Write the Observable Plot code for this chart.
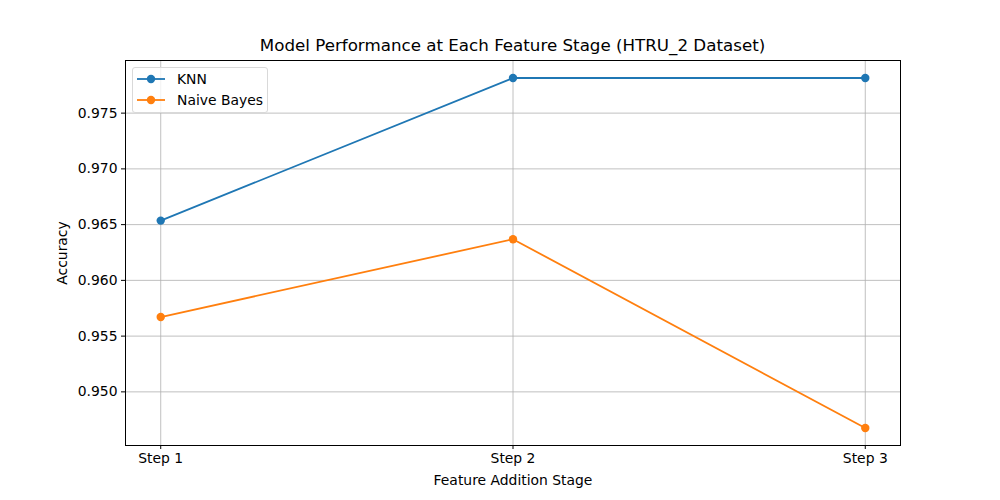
<!DOCTYPE html>
<html>
<head>
<meta charset="utf-8">
<script src="https://cdn.jsdelivr.net/npm/d3@7"></script>
<script src="https://cdn.jsdelivr.net/npm/@observablehq/plot@0.6"></script>
<style>
  body { margin: 0; background: #fff; font-family: "DejaVu Sans", sans-serif; }
  #wrap { position: relative; width: 1000px; height: 500px; }
  #title { position: absolute; top: 35px; left: 0; width: 1025px; text-align: center; font-size: 16.7px; color: #000; }
  #legend { position: absolute; left: 132px; top: 67px; width: 134px; height: 44px; border: 1px solid #d9d9d9; border-radius: 3px; background: rgba(255,255,255,0.8); font-size: 13.9px; }
  .item { position: absolute; left: 4px; display: flex; align-items: center; }
  .item span { margin-left: 12px; }
</style>
</head>
<body>
<div id="wrap">
  <div id="title">Model Performance at Each Feature Stage (HTRU_2 Dataset)</div>
  <div id="chart"></div>
  <div id="legend"></div>
</div>
<script>
const steps = [1, 2, 3];
const stepLabels = ["Step 1", "Step 2", "Step 3"];
const knn = [0.96536, 0.97815, 0.97815];
const naiveBayes = [0.95671, 0.96369, 0.94676];
const seriesNames = ["KNN", "Naive Bayes"];
const seriesColors = ["#1f77b4", "#ff7f0e"];
const yTicks = [0.950, 0.955, 0.960, 0.965, 0.970, 0.975];

const data = [];
steps.forEach((s, i) => {
  data.push({step: s, value: knn[i], series: seriesNames[0]});
  data.push({step: s, value: naiveBayes[i], series: seriesNames[1]});
});

const chart = Plot.plot({
  width: 1000,
  height: 500,
  marginLeft: 125,
  marginRight: 100,
  marginTop: 60,
  marginBottom: 55,
  style: {fontFamily: "DejaVu Sans, sans-serif", fontSize: "13.9px", color: "#000", background: "#fff"},
  x: {domain: [0.9, 3.1]},
  y: {domain: [0.94519, 0.97972]},
  color: {domain: seriesNames, range: seriesColors},
  marks: [
    Plot.gridX(steps, {stroke: "#b0b0b0", strokeOpacity: 1, strokeWidth: 0.8}),
    Plot.gridY(yTicks, {stroke: "#b0b0b0", strokeOpacity: 1, strokeWidth: 0.8}),
    Plot.axisX(steps, {tickFormat: (d, i) => stepLabels[i], tickSize: 4, tickPadding: 4,
      label: "Feature Addition Stage", labelAnchor: "center", labelArrow: "none", labelOffset: 39}),
    Plot.axisY(yTicks, {tickFormat: d3.format(".3f"), tickSize: 4, tickPadding: 4,
      label: "Accuracy", labelAnchor: "center", labelArrow: "none", labelOffset: 68}),
    Plot.line(data, {x: "step", y: "value", stroke: "series", z: "series", strokeWidth: 1.8}),
    Plot.dot(data, {x: "step", y: "value", fill: "series", r: 4.2, stroke: null}),
    Plot.frame({stroke: "#000", strokeWidth: 1})
  ]
});
document.getElementById("chart").appendChild(chart);

const legend = document.getElementById("legend");
seriesNames.forEach((name, i) => {
  const div = document.createElement("div");
  div.className = "item";
  div.style.top = (3 + i * 21) + "px";
  div.innerHTML = `<svg width="28" height="16"><line x1="0" y1="8" x2="28" y2="8" stroke="${seriesColors[i]}" stroke-width="1.8"/><circle cx="14" cy="8" r="4.2" fill="${seriesColors[i]}"/></svg><span>${name}</span>`;
  legend.appendChild(div);
});
</script>
</body>
</html>
